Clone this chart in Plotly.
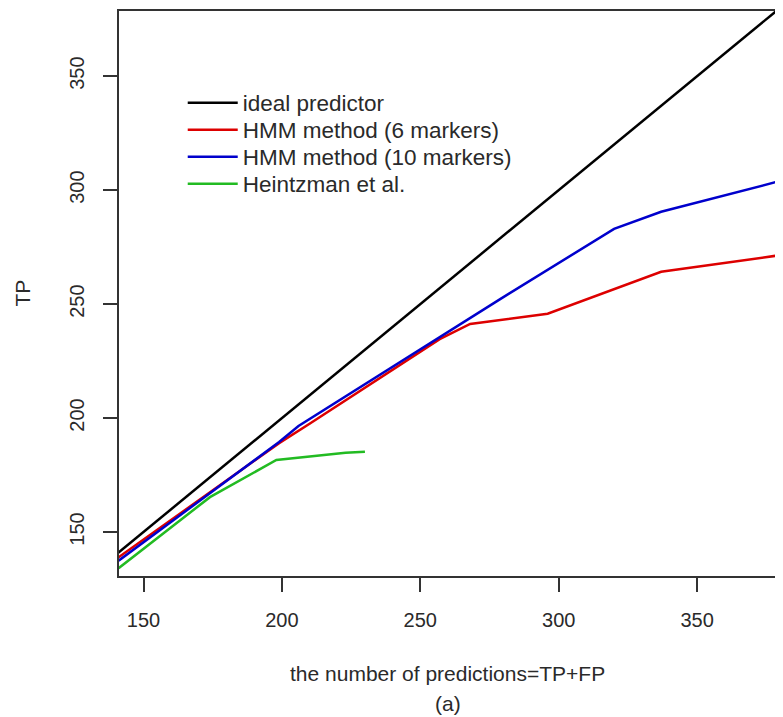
import plotly.graph_objects as go

# ---- data ----
ideal_x = [140, 380]
ideal_y = [140, 380]

hmm6_x = [141, 199, 210, 257, 268, 296, 337, 379]
hmm6_y = [138.9, 189, 197.5, 234.6, 241.3, 245.8, 264.2, 271.3]

hmm10_x = [141, 199, 206, 279, 320, 337, 379]
hmm10_y = [137.4, 189.5, 196.5, 252.3, 283, 290.5, 303.7]

heintz_x = [141, 174, 198, 208, 223, 230]
heintz_y = [134.1, 165.3, 181.6, 183.0, 184.8, 185.2]

x_ticks = [150, 200, 250, 300, 350]
y_ticks = [150, 200, 250, 300, 350]

series = [
    ("ideal predictor", ideal_x, ideal_y, "#000000"),
    ("HMM method (6 markers)", hmm6_x, hmm6_y, "#DD0000"),
    ("HMM method (10 markers)", hmm10_x, hmm10_y, "#0000CC"),
    ("Heintzman et al.", heintz_x, heintz_y, "#22BB22"),
]

FONT = "Liberation Sans, Arial, sans-serif"
TXT = "#2a2a2a"
AX = "#333333"

# the page body adds an 8px offset; figure is sized to fit the window
OFF = 8
TOP, BOT = 11 - OFF, 576 - OFF          # plot area in figure pixels
row_centers = [103 - OFF, 130 - OFF, 157 - OFF, 184 - OFF]

fig = go.Figure()
legend_layout = {}
for i, (name, xs, ys, col) in enumerate(series):
    lname = "legend" if i == 0 else f"legend{i+1}"
    fig.add_trace(go.Scatter(x=xs, y=ys, mode="lines", name=name,
                             line=dict(color=col, width=2.5), legend=lname))
    legend_layout[lname] = dict(
        x=0.097, y=(BOT - row_centers[i]) / (BOT - TOP),
        xanchor="left", yanchor="middle",
        bgcolor="rgba(0,0,0,0)", borderwidth=0,
        font=dict(size=22.5, color=TXT), itemwidth=50)

fig.update_layout(
    width=783 - OFF, height=717 - OFF,
    margin=dict(l=119 - OFF, r=7, t=TOP, b=141, autoexpand=False),
    paper_bgcolor="white", plot_bgcolor="white",
    font=dict(family=FONT, size=20, color=TXT),
    showlegend=True,
    annotations=[
        dict(text="the number of predictions=TP+FP", xref="paper", yref="paper",
             x=0.5, y=0, xanchor="center", yanchor="middle", yshift=-97,
             showarrow=False, font=dict(size=21, color=TXT)),
        dict(text="(a)", xref="paper", yref="paper",
             x=0.5, y=0, xanchor="center", yanchor="middle", yshift=-127,
             showarrow=False, font=dict(size=21, color=TXT)),
        dict(text="TP", xref="paper", yref="paper",
             x=0, y=0.5, xanchor="center", yanchor="middle", xshift=-97,
             textangle=-90, showarrow=False, font=dict(size=21, color=TXT)),
    ],
    **legend_layout,
)

fig.update_xaxes(range=[141.15, 378.5], tickvals=x_ticks, ticks="outside",
                 ticklen=14, tickwidth=1.5, tickcolor=AX, showline=True,
                 linecolor=AX, linewidth=1.5, mirror=True, showgrid=False,
                 zeroline=False, ticklabelstandoff=11, automargin=False,
                 tickfont=dict(size=20, color=TXT))
fig.update_yaxes(range=[130.7, 378.6], tickvals=y_ticks, ticks="outside",
                 ticklen=14, tickwidth=1.5, tickcolor=AX, showline=True,
                 linecolor=AX, linewidth=1.5, mirror=True, showgrid=False,
                 zeroline=False, tickangle=-90, ticklabelstandoff=11,
                 automargin=False, tickfont=dict(size=20, color=TXT))

fig.write_html("out.html")
